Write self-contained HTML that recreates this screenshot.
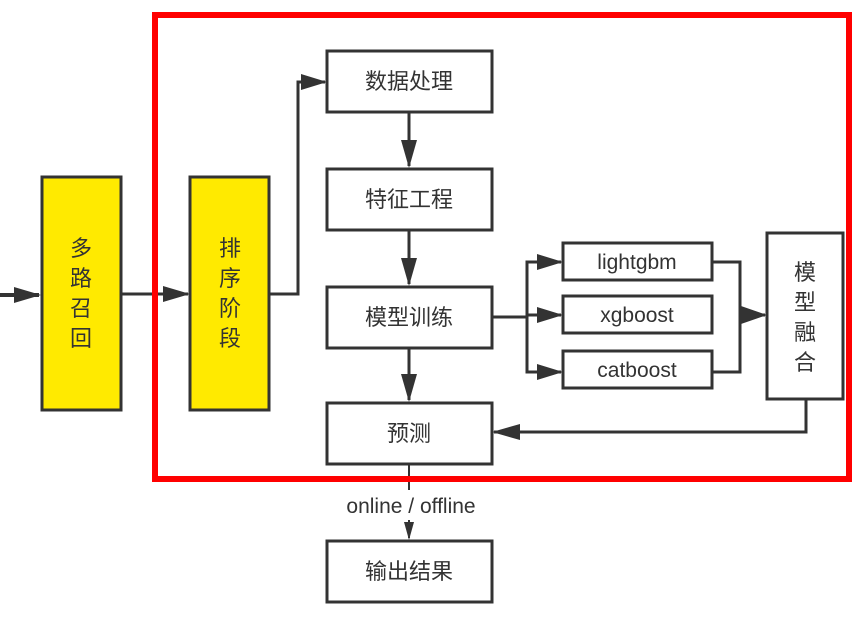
<!DOCTYPE html>
<html><head><meta charset="utf-8"><style>
html,body{margin:0;padding:0;background:#fff;}
svg{display:block;}
text{font-family:"Liberation Sans","Noto Sans CJK SC",sans-serif;fill:#333;}
</style></head><body>
<svg width="868" height="626" viewBox="0 0 868 626" xmlns="http://www.w3.org/2000/svg">
<defs>
<marker id="a" markerWidth="10" markerHeight="10" refX="9" refY="5" orient="auto" markerUnits="userSpaceOnUse" viewBox="0 0 10 10">
<path d="M0,0 L10,5 L0,10 z" fill="#333"/></marker>
</defs>
<g stroke="#333" stroke-width="3" fill="none">
<line x1="0" y1="295" x2="39" y2="295" stroke-width="4"/>
<line x1="121" y1="294" x2="188" y2="294"/>
<polyline points="269,294 298,294 298,82 325,82"/>
<line x1="409" y1="112" x2="409" y2="166"/>
<line x1="409" y1="230" x2="409" y2="284"/>
<line x1="409" y1="348" x2="409" y2="400"/>
<line x1="409" y1="464" x2="409" y2="538" stroke-width="2"/>
<line x1="492" y1="317" x2="527" y2="317"/>
<polyline points="561,262 527,262 527,372 561,372"/>
<line x1="527" y1="315" x2="561" y2="315"/>
<polyline points="712,262 740,262 740,372 712,372"/>
<line x1="740" y1="315" x2="765" y2="315"/>
<polyline points="806,399 806,432 494,432"/>
</g>
<g fill="#333">
<path d="M14,287 L41,295 L14,303 z"/>
<path d="M163,286 L190,294 L163,302 z"/>
<path d="M301,74 L327,82 L301,90 z"/>
<path d="M401,140 L409,168 L417,140 z"/>
<path d="M401,258 L409,286 L417,258 z"/>
<path d="M401,374 L409,402 L417,374 z"/>
<path d="M404,522 L409,540 L414,522 z"/>
<path d="M537,254 L563,262 L537,270 z"/>
<path d="M537,307 L563,315 L537,323 z"/>
<path d="M537,364 L563,372 L537,380 z"/>
<path d="M741,306 L767,315 L741,324 z"/>
<path d="M520,424 L492,432 L520,440 z"/>
</g>
<g stroke="#333" stroke-width="3">
<rect x="42" y="177" width="79" height="233" fill="#ffea00"/>
<rect x="190" y="177" width="79" height="233" fill="#ffea00"/>
<rect x="327" y="51" width="165" height="61" fill="#fff"/>
<rect x="327" y="169" width="165" height="61" fill="#fff"/>
<rect x="327" y="287" width="165" height="61" fill="#fff"/>
<rect x="327" y="403" width="165" height="61" fill="#fff"/>
<rect x="327" y="541" width="165" height="61" fill="#fff"/>
<rect x="563" y="243" width="149" height="37" fill="#fff"/>
<rect x="563" y="296" width="149" height="37" fill="#fff"/>
<rect x="563" y="351" width="149" height="37" fill="#fff"/>
<rect x="767" y="233" width="76" height="166" fill="#fff"/>
</g>
<rect x="155" y="15" width="694" height="464" fill="none" stroke="#ff0000" stroke-width="6"/>
<rect x="328" y="490" width="166" height="30" fill="#fff"/>
<g font-size="22" text-anchor="middle">
<text x="81" y="256">多</text><text x="81" y="286">路</text><text x="81" y="316">召</text><text x="81" y="346">回</text>
<text x="230" y="256">排</text><text x="230" y="286">序</text><text x="230" y="316">阶</text><text x="230" y="346">段</text>
<text x="409" y="89">数据处理</text>
<text x="409" y="207">特征工程</text>
<text x="409" y="325">模型训练</text>
<text x="409" y="441">预测</text>
<text x="409" y="579">输出结果</text>
<text x="805" y="280">模</text><text x="805" y="310">型</text><text x="805" y="340">融</text><text x="805" y="370">合</text>
</g>
<g font-size="21" text-anchor="middle">
<text x="637" y="269">lightgbm</text>
<text x="637" y="322">xgboost</text>
<text x="637" y="377">catboost</text>
<text x="411" y="513">online / offline</text>
</g>
</svg>
</body></html>
